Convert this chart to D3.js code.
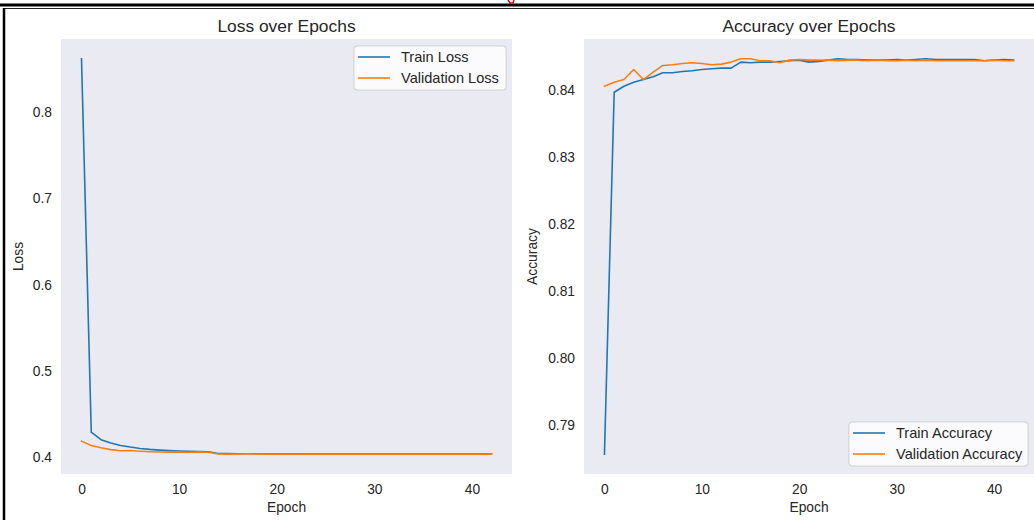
<!DOCTYPE html>
<html>
<head>
<meta charset="utf-8">
<script src="https://cdn.jsdelivr.net/npm/d3@7"></script>
<style>
  body { margin: 0; background: #fff; }
  svg { display: block; font-family: "Liberation Sans", Arial, sans-serif; }
</style>
</head>
<body>
<div class="container"></div>
<script>
'use strict';

// Epochs 0..42
const epochs = d3.range(0, 43);

// Loss values
const trainLoss = [0.862, 0.4293, 0.4205, 0.4166, 0.4139, 0.4120, 0.4104, 0.4093, 0.4085, 0.4079,
  0.4074, 0.4071, 0.4068, 0.4066, 0.4046, 0.4044, 0.4043, 0.4043, 0.4042, 0.4042,
  0.4041, 0.4041, 0.4041, 0.4040, 0.4040, 0.4040, 0.4040, 0.4040, 0.4040, 0.4040,
  0.4040, 0.4040, 0.4040, 0.4040, 0.4040, 0.4040, 0.4040, 0.4040, 0.4040, 0.4040,
  0.4040, 0.4040, 0.4040];
const valLoss = [0.4189, 0.4139, 0.4112, 0.4090, 0.4078, 0.4080, 0.4072, 0.4066, 0.4062, 0.4061,
  0.4060, 0.4060, 0.4061, 0.4060, 0.4039, 0.4038, 0.4040, 0.4041, 0.4039, 0.4038,
  0.4038, 0.4038, 0.4038, 0.4037, 0.4037, 0.4037, 0.4037, 0.4037, 0.4037, 0.4037,
  0.4037, 0.4037, 0.4037, 0.4037, 0.4037, 0.4037, 0.4037, 0.4037, 0.4037, 0.4037,
  0.4037, 0.4037, 0.4037];

// Accuracy values
const trainAcc = [0.7856, 0.8397, 0.8406, 0.8412, 0.8416, 0.8420, 0.8426, 0.8426, 0.8428, 0.8429,
  0.8431, 0.8432, 0.8433, 0.8433, 0.8442, 0.8441, 0.8442, 0.8442, 0.8443, 0.8444,
  0.8445, 0.8442, 0.8443, 0.8445, 0.8447, 0.8446, 0.8446, 0.8445, 0.8445, 0.8445,
  0.8446, 0.8445, 0.8446, 0.8447, 0.8446, 0.8446, 0.8446, 0.8446, 0.8446, 0.8444,
  0.8445, 0.8446, 0.8445];
const valAcc = [0.8406, 0.8412, 0.8416, 0.8431, 0.8416, 0.8427, 0.8437, 0.8438, 0.8440, 0.8441,
  0.8440, 0.8438, 0.8439, 0.8442, 0.8447, 0.8447, 0.8444, 0.8444, 0.8441, 0.8445,
  0.8446, 0.8445, 0.8445, 0.8445, 0.8444, 0.8445, 0.8445, 0.8444, 0.8445, 0.8444,
  0.8444, 0.8445, 0.8444, 0.8445, 0.8444, 0.8444, 0.8444, 0.8444, 0.8444, 0.8444,
  0.8445, 0.8444, 0.8444];

const xTicks = [0, 10, 20, 30, 40];
const lossTicks = [0.4, 0.5, 0.6, 0.7, 0.8];
const accTicks = [0.79, 0.80, 0.81, 0.82, 0.83, 0.84];

const blue = "#1f77b4";
const orange = "#ff7f0e";
const textColor = "#262626";

const width = 1034;
const height = 520;

const svg = d3.select("div.container").append("svg")
  .attr("width", width)
  .attr("height", height);

// Page frame (double rule on top, rule on the left)
svg.append("line").attr("x1", 0).attr("x2", width).attr("y1", 5).attr("y2", 5)
  .attr("stroke", "#000").attr("stroke-width", 3);
svg.append("line").attr("x1", 3).attr("x2", width).attr("y1", 8.5).attr("y2", 8.5)
  .attr("stroke", "#222").attr("stroke-width", 1.2);
svg.append("line").attr("x1", 4).attr("x2", 4).attr("y1", 8).attr("y2", height)
  .attr("stroke", "#000").attr("stroke-width", 2.5);
// tiny red fragment peeking in at the top edge
svg.append("path").attr("d", "M508,0 L510,3 L513,3 L514,0")
  .attr("fill", "none").attr("stroke", "#e00").attr("stroke-width", 1.5);

// matplotlib-style padded domain
function padded(values) {
  const [lo, hi] = d3.extent(values);
  const m = (hi - lo) * 0.05;
  return [lo - m, hi + m];
}

function drawPanel(opts) {
  const g = svg.append("g");
  const x = d3.scaleLinear().domain([-2.1, 44.1]).range([opts.left, opts.right]);
  const y = d3.scaleLinear().domain(padded(opts.series[0].values.concat(opts.series[1].values)))
    .range([opts.bottom, opts.top]);

  g.append("rect")
    .attr("x", opts.left).attr("y", opts.top)
    .attr("width", opts.right - opts.left).attr("height", opts.bottom - opts.top)
    .attr("fill", "#eaeaf2");

  const xAxis = g.append("g")
    .attr("transform", `translate(0,${opts.bottom})`)
    .call(d3.axisBottom(x).tickValues(xTicks).tickSize(0).tickPadding(10));
  const yAxis = g.append("g")
    .attr("transform", `translate(${opts.left},0)`)
    .call(d3.axisLeft(y).tickValues(opts.ticks).tickSize(0).tickPadding(9)
      .tickFormat(opts.format));
  [xAxis, yAxis].forEach(a => {
    a.select(".domain").remove();
    a.selectAll("text").attr("font-size", 13.8).attr("fill", textColor)
      .attr("font-family", "Liberation Sans, Arial, sans-serif");
  });

  const line = d3.line().x((d, i) => x(epochs[i])).y(d => y(d));
  opts.series.forEach(s => {
    g.append("path").datum(s.values)
      .attr("d", line).attr("fill", "none")
      .attr("stroke", s.color).attr("stroke-width", 1.6)
      .attr("stroke-linejoin", "round").attr("stroke-linecap", "square");
  });

  const cx = (opts.left + opts.right) / 2;
  g.append("text").attr("x", cx).attr("y", 32)
    .attr("text-anchor", "middle").attr("font-size", 17.4).attr("fill", textColor)
    .text(opts.title);
  g.append("text").attr("x", cx).attr("y", 512)
    .attr("text-anchor", "middle").attr("font-size", 13.8).attr("fill", textColor)
    .text("Epoch");
  g.append("text")
    .attr("transform", `translate(${opts.ylabelX},${(opts.top + opts.bottom) / 2}) rotate(-90)`)
    .attr("text-anchor", "middle").attr("font-size", 13.8).attr("fill", textColor)
    .text(opts.ylabel);

  // legend
  const lg = opts.legend;
  const leg = g.append("g").attr("transform", `translate(${lg.x},${lg.y})`);
  leg.append("rect").attr("width", lg.w).attr("height", 44).attr("rx", 3)
    .attr("fill", "#eaeaf2").attr("fill-opacity", 1)
    .attr("stroke", "#cccccc").attr("stroke-width", 1);
  leg.append("rect").attr("x", 0.5).attr("y", 0.5).attr("width", lg.w - 1).attr("height", 43).attr("rx", 3)
    .attr("fill", "#ffffff").attr("fill-opacity", 0.8);
  opts.series.forEach((s, i) => {
    const ly = 11 + i * 21;
    leg.append("line").attr("x1", 4).attr("x2", 36).attr("y1", ly).attr("y2", ly)
      .attr("stroke", s.color).attr("stroke-width", 1.6);
    leg.append("text").attr("x", 47).attr("y", ly + 5)
      .attr("font-size", 14.6).attr("fill", textColor).text(s.name);
  });
}

drawPanel({
  left: 61, right: 512, top: 39, bottom: 474,
  title: "Loss over Epochs", ylabel: "Loss", ylabelX: 23,
  ticks: lossTicks, format: d3.format(".1f"),
  series: [
    { name: "Train Loss", values: trainLoss, color: blue },
    { name: "Validation Loss", values: valLoss, color: orange }
  ],
  legend: { x: 354, y: 46, w: 152 }
});

drawPanel({
  left: 584, right: 1034, top: 39, bottom: 474,
  title: "Accuracy over Epochs", ylabel: "Accuracy", ylabelX: 537,
  ticks: accTicks, format: d3.format(".2f"),
  series: [
    { name: "Train Accuracy", values: trainAcc, color: blue },
    { name: "Validation Accuracy", values: valAcc, color: orange }
  ],
  legend: { x: 849, y: 422, w: 179 }
});
</script>
</body>
</html>
